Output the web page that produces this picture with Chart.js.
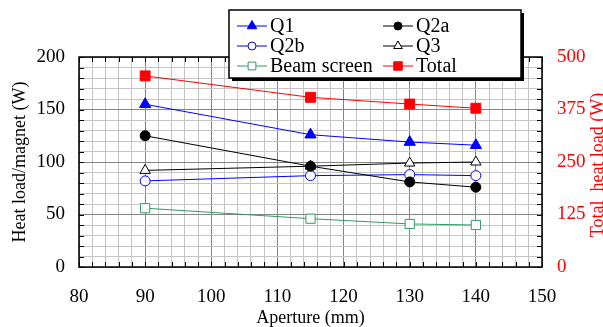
<!DOCTYPE html>
<html>
<head>
<meta charset="utf-8">
<script src="https://cdn.jsdelivr.net/npm/chart.js@4/dist/chart.umd.min.js"></script>
<style>
  body { margin: 0; background: #fff; }
  #wrap { width: 603px; height: 327px; position: relative; }
</style>
</head>
<body>
<div id="wrap"><canvas id="myChart"></canvas></div>
<script>
// data
const apertures = [90, 115, 130, 140];
const q1 = [155, 126, 119, 116];
const q2a = [125, 96, 81, 76];
const q2b = [82, 87, 88, 87];
const q3 = [92, 96, 99, 100];
const beamScreen = [56, 46, 41, 40];
const total = [455, 404, 388, 378]; // right axis

const FONT = '"Liberation Serif", "DejaVu Serif", serif';

function pts(vals){
	return apertures.map((a, i) => ({x: a, y: vals[i]}));
}

function series(label, vals, color, style, radius, filled, axis){
	return {
		label: label,
		data: pts(vals),
		borderColor: color,
		borderWidth: 1,
		pointStyle: style,
		pointRadius: radius,
		pointHoverRadius: radius,
		pointBorderWidth: 1,
		pointBorderColor: color,
		pointBackgroundColor: filled ? color : '#fff',
		yAxisID: axis || 'y',
		tension: 0
	};
}

// frame + inward tick marks
const framePlugin = {
	id: 'frame',
	beforeDatasetsDraw(chart){
		const ctx = chart.ctx;
		const a = chart.chartArea;
		const xs = chart.scales.x, ys = chart.scales.y;
		ctx.save();
		ctx.strokeStyle = '#000';
		ctx.lineWidth = 1;
		ctx.beginPath();
		for (let v = xs.min; v <= xs.max; v += 2){
			const px = Math.round(xs.getPixelForValue(v)) + 0.5;
			ctx.moveTo(px, a.bottom); ctx.lineTo(px, a.bottom - 5);
			ctx.moveTo(px, a.top); ctx.lineTo(px, a.top + 5);
		}
		for (let v = ys.min; v <= ys.max; v += 10){
			const py = Math.round(ys.getPixelForValue(v)) + 0.5;
			ctx.moveTo(a.left, py); ctx.lineTo(a.left + 5, py);
			ctx.moveTo(a.right, py); ctx.lineTo(a.right - 5, py);
		}
		ctx.stroke();
		ctx.lineWidth = 1.5;
		ctx.strokeRect(a.left, a.top, a.right - a.left, a.bottom - a.top);
		ctx.restore();
	}
};

// right axis title reads bottom to top, like the left one
const rightTitlePlugin = {
	id: 'rightTitle',
	afterDraw(chart){
		const ctx = chart.ctx;
		const a = chart.chartArea;
		ctx.save();
		ctx.translate(598, (a.top + a.bottom) / 2 + 3);
		ctx.rotate(-Math.PI / 2);
		ctx.font = '18px ' + FONT;
		ctx.fillStyle = '#ff0000';
		ctx.textAlign = 'center';
		ctx.textBaseline = 'middle';
		ctx.fillText('Total  heat load (W)', 0, 0);
		ctx.restore();
	}
};

// two column legend box with shadow
const legendPlugin = {
	id: 'boxLegend',
	afterDraw(chart){
		const ctx = chart.ctx;
		const bx = 229, by = 10, bw = 292, bh = 68;
		ctx.save();
		ctx.fillStyle = '#000';
		ctx.fillRect(bx + 3, by + 3, bw, bh);
		ctx.fillStyle = '#fff';
		ctx.fillRect(bx, by, bw, bh);
		ctx.strokeStyle = '#000';
		ctx.lineWidth = 1.5;
		ctx.strokeRect(bx, by, bw, bh);
		ctx.font = '20px ' + FONT;
		ctx.textBaseline = 'middle';
		chart.data.datasets.forEach((ds, i) => {
			const col = i % 2, row = Math.floor(i / 2);
			const lx = col === 0 ? 237 : 383;
			const ly = 26 + row * 20;
			ctx.strokeStyle = ds.borderColor;
			ctx.lineWidth = 1;
			ctx.beginPath();
			ctx.moveTo(lx, ly); ctx.lineTo(lx + 30, ly);
			ctx.stroke();
			ctx.fillStyle = ds.pointBackgroundColor;
			ctx.strokeStyle = ds.pointBorderColor;
			Chart.helpers.drawPoint(ctx, {pointStyle: ds.pointStyle, radius: ds.pointRadius - 1, rotation: 0, borderWidth: 1}, lx + 15, ly);
			ctx.fillStyle = '#000';
			ctx.fillText(ds.label, lx + 33, ly + 1);
		});
		ctx.restore();
	}
};

let ctx = document.getElementById('myChart').getContext('2d');
let chart = new Chart(ctx, {
	type: 'line',
	data: {
		datasets: [
			series('Q1', q1, '#0000ff', 'triangle', 6.5, true),
			series('Q2a', q2a, '#000000', 'circle', 5, true),
			series('Q2b', q2b, '#0000ff', 'circle', 5, false),
			series('Q3', q3, '#000000', 'triangle', 6, false),
			series('Beam screen', beamScreen, '#339966', 'rect', 6.5, false),
			series('Total', total, '#ff0000', 'rect', 7, true, 'y2')
		]
	},
	options: {
		responsive: true,
		maintainAspectRatio: false,
		devicePixelRatio: 1,
		animation: false,
		layout: { padding: { top: 57, left: 0, right: 0, bottom: 0 } },
		plugins: { legend: { display: false }, tooltip: { enabled: false } },
		scales: {
			x: {
				type: 'linear', position: 'bottom', min: 80, max: 150,
				afterFit: s => { s.height = 60; },
				border: { display: false },
				grid: {
					drawTicks: false,
					color: c => (c.tick.value % 10 === 0 ? '#858585' : '#c4c4c4'),
					lineWidth: 1
				},
				ticks: {
					stepSize: 2, autoSkip: false, maxRotation: 0, padding: 19,
					color: '#000', font: { family: FONT, size: 19 },
					callback: v => (v % 10 === 0 ? v : '')
				},
				title: {
					display: true, text: 'Aperture (mm)', color: '#000',
					font: { family: FONT, size: 18, lineHeight: 1 }, padding: 0
				}
			},
			y: {
				position: 'left', min: 0, max: 200,
				afterFit: s => { s.width = 79; },
				border: { display: false },
				grid: {
					drawTicks: false,
					color: c => (c.tick.value % 50 === 0 ? '#858585' : '#c4c4c4'),
					lineWidth: 1
				},
				ticks: {
					stepSize: 10, autoSkip: false, padding: 14,
					color: '#000', font: { family: FONT, size: 19 },
					callback: v => (v % 50 === 0 ? v : '')
				},
				title: {
					display: true, text: 'Heat load/magnet (W)', color: '#000',
					font: { family: FONT, size: 18, lineHeight: 1 }, padding: { top: 11, bottom: 0 }
				}
			},
			y2: {
				position: 'right', min: 0, max: 500,
				afterFit: s => { s.width = 61; },
				border: { display: false },
				grid: { display: false, drawTicks: false },
				ticks: {
					stepSize: 125, autoSkip: false, padding: 15,
					color: '#ff0000', font: { family: FONT, size: 19 }
				}
			}
		}
	},
	plugins: [framePlugin, legendPlugin, rightTitlePlugin]
});
</script>
</body>
</html>
